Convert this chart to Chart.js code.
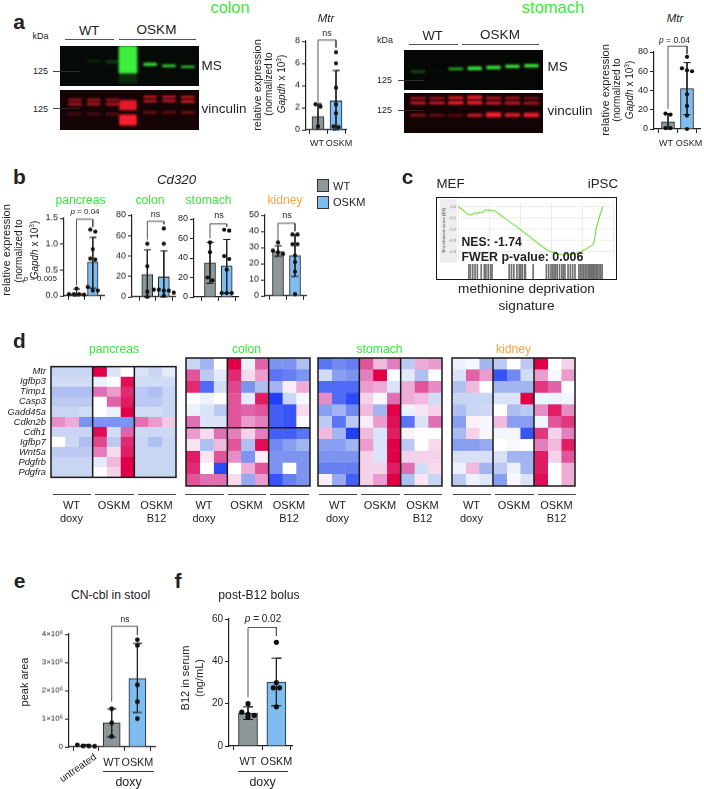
<!DOCTYPE html>
<html>
<head>
<meta charset="utf-8">
<script src="https://cdn.jsdelivr.net/npm/chart.js@4"></script>
<style>
  html, body { margin: 0; padding: 0; background: #fff; }
  #page { position: relative; width: 704px; height: 789px; overflow: hidden; font-family: "Liberation Sans", Arial, sans-serif; color: #222; }
  #page canvas { position: absolute; }
  .t { position: absolute; white-space: nowrap; line-height: 1; }
  .r { position: absolute; }
  sup { font-size: 65%; line-height: 0; }
</style>
</head>
<body>
<div id="page"></div>
<script>
// ---- panel a, Mtr expression
const groups = ["WT", "OSKM"];
const colonMtrMeans = [1.2, 2.6];
const colonMtrHi = [2.35, 5.35];
const colonMtrLo = [0.05, 0];
const colonMtrDots = [[2.3, 2.1, 0.3], [7, 6, 3.8, 2.3, 1.5, 0.3, 0.25]];
const colonMtrBracket = [8.1, 2.5, 7.4];

const stomachMtrMeans = [7.5, 42];
const stomachMtrHi = [16, 69];
const stomachMtrLo = [0, 15];
const stomachMtrDots = [[16, 15, 1, 1], [75, 63, 60, 61, 36, 24, 14, 0]];
const stomachMtrBracket = [86, 21, 78];

// ---- panel b, Cd320 expression
const pancreasCdMeans = [0.04, 0.65];
const pancreasCdHi = [0.13, 1.13];
const pancreasCdLo = [0, 0.15];
const pancreasCdDots = [[0.14, 0.03, 0.03, 0.03, 0.02], [1.28, 1.24, 0.9, 0.72, 0.7, 0.17, 0.1, 0.1]];
const pancreasCdBracket = [1.48, 0.2, 1.33];

const colonCdMeans = [22, 19.5];
const colonCdHi = [46, 45];
const colonCdLo = [0, 0];
const colonCdDots = [[52, 30, 5, 0], [67, 52, 7, 7, 6, 6, 4, 1]];
const colonCdBracket = [74, 56, 71];

const stomachCdMeans = [35, 32];
const stomachCdHi = [56, 59];
const stomachCdLo = [14, 4];
const stomachCdDots = [[56, 46, 20, 17], [69, 68, 42, 39, 28, 4, 4, 4]];
const stomachCdBracket = [75, 60, 72];

const kidneyCdMeans = [27.5, 25];
const kidneyCdHi = [31, 38];
const kidneyCdLo = [24.5, 12];
const kidneyCdDots = [[33, 28, 27, 26], [38, 38, 32, 32, 25, 21, 15, 1]];
const kidneyCdBracket = [45, 34, 40];

// ---- panel e, f
const stoolGroups = ["", "WT", "OSKM"];
const stoolMeans = [50000, 850000, 2430000];
const stoolHi = [80000, 1350000, 3670000];
const stoolLo = [20000, 350000, 1220000];
const stoolDots = [[70000, 30000, 30000, 20000], [1350000, 850000, 370000], [3800000, 3600000, 2200000, 1600000, 1000000]];
const stoolBracket = [4280000, 1600000, 3960000];

const serumMeans = [15.5, 30.2];
const serumHi = [18.5, 41.5];
const serumLo = [12.5, 19];
const serumDots = [[20, 16, 15, 14.5, 13.5], [49, 30, 27.5, 27.5, 18.5]];
const serumBracket = [56, 23, 52];

// ---- panel c, enrichment curve
const esRank = [0, 3.2, 6.5, 8.6, 10.8, 12, 14, 15.5, 17.2, 20.4, 23.7, 26.9, 31.2, 36.6, 41.9, 47.3, 52.7, 58.1, 63.4, 66, 68.8, 71, 74.2, 77, 79.6, 81, 82.8, 85, 87.1, 88, 89.2, 91.4, 93.5];
const esScore = [0, -0.031, -0.07, -0.073, -0.057, -0.064, -0.049, -0.056, -0.031, -0.033, -0.039, -0.07, -0.114, -0.166, -0.221, -0.278, -0.338, -0.39, -0.416, -0.425, -0.429, -0.423, -0.421, -0.412, -0.403, -0.385, -0.374, -0.355, -0.338, -0.3, -0.187, -0.083, 0];
const esHits = [7, 8, 9.5, 11, 12.5, 15, 17, 18, 19.5, 21, 22, 33, 34.5, 36, 38, 39.5, 40.5, 41.5, 43, 43.5, 48.5, 57, 58.5, 60, 61, 62, 63, 64, 65.5, 67, 68, 69, 71, 72.5, 74, 75.5, 78, 79, 80, 81, 82, 83, 84, 85, 85.5, 86, 87, 87.5, 88, 89, 89.5, 90, 91, 92, 93];
const esTicks = [0, -0.1, -0.2, -0.3, -0.4];

// ---- panel d, z-scores scaled to -10..10, columns WT x3, OSKM x3, OSKM B12 x3
const genes = ["Mtr", "Igfbp3", "Timp1", "Casp3", "Gadd45a", "Cdkn2b", "Cdh1", "Igfbp7", "Wnt5a", "Pdgfrb", "Pdgfra"];
const pancreasHeat = [
  [-3, -3, -3, 10, -2, 0, -2, -3, -1.5],
  [-2.5, -2.5, -2.5, -1, 0, 9.5, -2.5, -2.5, -2.5],
  [-4, -4, -4, 6, 4.5, 8.5, -3.5, -4, -3],
  [-3.5, -3.5, -3.5, 0, 6.5, 9, -3.5, -3.5, -3],
  [-3, -3, -2.5, 0, -1, 10, -2.5, -2.5, -3],
  [5, 4, -6, -6, -6, -6, 6, 4.5, 3],
  [-3, -3, -3, 9.5, -2.5, 6.5, -2.8, -2.8, -2.8],
  [0, -2.8, -4, 7.5, -3.5, 8.5, -3, -4, -3],
  [-3.5, -3.5, -3.5, 5.5, 2, 9, -3, -3, -3],
  [-3, -3, -3, -1.5, 3.5, 10, -3, -3, -3],
  [-3, -3, -3, 0, 2.5, 10, -3, -3, -3],
];
const colonHeat = [
  [-3, -4.5, 0, 10, -1, 6.5, -6, -6, -4],
  [7, -3.5, -1.5, 8.5, 2, 4.5, -7.5, -7, -6],
  [8.5, -8, -2.5, 7.5, -6, -4, -4.5, 1, 4],
  [0, -1, 0, 7, -1.5, 9, -10, -3, -0.5],
  [-1, -2, -3.5, 7, 6.5, 7, -8.5, -9, 2],
  [6, -2, -2, 7, 4.5, 5.5, -8.5, -9, -0.3],
  [4.5, 2, 6, 5.5, 2.5, 5.5, -8.5, -8.5, -7.5],
  [1.5, -4, 3.5, 7, -4, 9.5, -6.5, -5.5, -4.5],
  [9, 1.5, 7, 5, -6, 1, -6, -6, -6],
  [8.5, 0, -9.5, 0, 4, 7, -6, 0, -6],
  [7, 6, 6, 2, -5, 4.5, -9, -7, -6],
];
const stomachHeat = [
  [-7.5, -6.5, -7, 7, 3.5, 5.5, -3.5, 4, 4.5],
  [-2.5, -5.5, -6, 5.5, 10, 0, -1.5, -4, -0.3],
  [-8, -8, -8, 4.5, 4, -2, 4, 7, 5],
  [5, -8, -9.5, 2.5, -0.5, 6, 4, 3.5, -2.5],
  [-5.5, -4.5, -6.5, 3.5, -4.5, 10, -1, 1.5, 2.5],
  [-3.5, -7.5, -3.5, 1, 4.5, 9.5, -7.5, -2, 6],
  [3.5, -4.5, -10, 3.5, -2, 9, 0.7, 0, 0],
  [-5.5, -5.5, -4.5, 4.5, -2, 10, -3.5, 0, 2],
  [-6, -6, -6, 2.5, -2, 10, 2.5, 2.5, 2.5],
  [-7, -7, -7, 2.5, 2.5, 9, 6, -2.5, 2],
  [1, -5, -8.5, 2.5, 4.5, 10, -4, 1.5, -3],
];
const kidneyHeat = [
  [-1, -0.5, -4.5, -3.5, 0, -3.5, 10, 0, 2.5],
  [-2, 6.5, 4.5, -9, -6.5, -2.5, 4.5, -0.5, 4.5],
  [-4, 3.5, 0, -4.5, -4.5, -4.5, 8, 6.5, 0],
  [-3, -3, -3, -2, -2, 10, -0.8, -1, -0.8],
  [-4, -3, -2.8, 0, -4, -3.5, 5, 9, 5],
  [-5.5, 0.8, -0.5, 3.5, -5.5, -5.5, -0.8, 7, 8],
  [-4.2, 2.5, -0.5, -0.6, -0.6, -9, 8, 2.5, 5.5],
  [-5.5, -5.5, -5, 0, -0.4, 0, 5.5, 3.5, 9],
  [-2.2, -2.2, -2.2, -2.2, -4.5, -4.5, 9, 2.5, 7],
  [-1, 3.5, -4.5, -3.5, -1, -4.5, 9, 0, 4],
  [-3.5, -1, -1.8, -5.5, -0.5, -2, 9.5, 0, 4],
];

// ---- western blots: [lane, top %, bottom %, brightness]
const colonMsBands = [[1, 36, 40, 0.12], [2, 37, 42, 0.25], [2.82, 0, 68, 1], [2.82, 68, 92, 0.14], [4, 43, 49, 0.9], [5, 47, 52, 0.85], [6, 50, 54, 0.85]];
const colonVincBands = [
  [0, 22, 27, 0.6], [0, 32, 38, 0.65], [0, 58, 62, 0.3], [1, 22, 27, 0.65], [1, 32, 38, 0.7], [1, 58, 62, 0.3], [2, 22, 27, 0.6], [2, 32, 38, 0.7], [2, 58, 62, 0.35],
  [2.82, 26, 50, 0.9], [2.82, 62, 88, 1], [4, 15, 19, 0.85], [4, 26, 30, 0.85], [4, 54, 58, 0.45], [5, 15, 19, 0.9], [5, 25, 29, 0.9], [5, 54, 58, 0.4], [6, 16, 20, 0.85], [6, 26, 31, 0.85], [6, 54, 58, 0.5],
];
const stomachMsBands = [[0, 52, 56, 0.35], [1, 52, 55, 0.05], [2, 45, 49, 0.8], [3, 42, 50, 0.95], [4, 40, 47, 0.95], [5, 38, 44, 0.95], [6, 36, 43, 0.95]];
const stomachVincBands = [
  [0, 11, 15, 0.75], [0, 22, 27, 0.85], [0, 53, 58, 0.55], [1, 11, 15, 0.7], [1, 22, 27, 0.85], [1, 54, 58, 0.45], [2, 9, 15, 0.9], [2, 21, 28, 0.95], [2, 54, 58, 0.4],
  [3, 7, 15, 0.95], [3, 20, 28, 0.95], [3, 53, 59, 0.8], [4, 10, 15, 0.8], [4, 22, 28, 0.85], [4, 49, 60, 1], [5, 10, 15, 0.7], [5, 22, 28, 0.8], [5, 51, 59, 0.85], [6, 11, 15, 0.5], [6, 23, 28, 0.7], [6, 50, 60, 0.95],
];

Chart.defaults.font.family = '"Liberation Sans", Arial, sans-serif';
Chart.defaults.color = "#222";
Chart.defaults.animation = false;
Chart.defaults.responsive = false;
Chart.defaults.plugins.legend.display = false;
Chart.defaults.plugins.tooltip.enabled = false;

const page = document.getElementById("page");
const GREY = "#8b9798", BLUE = "#7fbcf0", GREEN = "#3ae83a", ORANGE = "#f5a544", INK = "#222";

function t(html, x, y, size, o = {}) {
  const d = document.createElement("div");
  d.className = "t";
  d.innerHTML = html;
  const ax = o.align === "left" ? "0" : o.align === "right" ? "-100%" : "-50%";
  d.style.cssText = `left:${x}px;top:${y}px;font-size:${size}px;color:${o.color || INK};font-weight:${o.bold ? "bold" : "normal"};font-style:${o.italic ? "italic" : "normal"};transform:translate(${ax},-50%) rotate(${o.rot || 0}deg)`;
  page.appendChild(d);
}

function hline(x0, x1, y, color = "#444", h = 1) {
  const d = document.createElement("div");
  d.className = "r";
  d.style.cssText = `left:${x0}px;top:${y - h / 2}px;width:${x1 - x0}px;height:${h}px;background:${color}`;
  page.appendChild(d);
}

function rect(x, y, w, h, css) {
  const d = document.createElement("div");
  d.className = "r";
  d.style.cssText = `left:${x}px;top:${y}px;width:${w}px;height:${h}px;box-sizing:border-box;${css}`;
  page.appendChild(d);
}

function addCanvas(l, top, w, h, bg) {
  const c = document.createElement("canvas");
  c.width = w;
  c.height = h;
  c.style.cssText = `left:${l}px;top:${top}px;width:${w}px;height:${h}px;` + (bg ? `background:${bg}` : "");
  page.appendChild(c);
  return c;
}

// spread dots that would overlap, like prism does
function dodge(vals, index, yPerPx, stepUnits) {
  const sorted = [...vals].sort((a, b) => b - a);
  const out = [];
  let group = [];
  const flush = () => {
    group.forEach((v, i) => out.push({ x: index + (i - (group.length - 1) / 2) * stepUnits, y: v }));
    group = [];
  };
  sorted.forEach((v) => {
    if (group.length && group[0] - v > 4 * yPerPx) flush();
    group.push(v);
  });
  flush();
  return out;
}

function whisker(i, hi, lo, cap) {
  return [{ x: i - cap, y: hi }, { x: i + cap, y: hi }, { x: i, y: hi }, { x: i, y: lo }, { x: i - cap, y: lo }, { x: i + cap, y: lo }];
}

function barPanel(p) {
  const [l, top, r, b] = p.box;
  const padL = 46, padT = 24, padR = 24, padB = 32;
  const canvas = addCanvas(l - padL, top - padT, r - l + padL + padR, b - top + padT + padB);
  const cap = (p.capPx || 3.5) / p.step;
  const yPerPx = p.yMax / (b - top);
  const fills = p.fills || [GREY, BLUE];
  const lineSet = (data, color) => ({ type: "scatter", showLine: true, data, borderColor: color, borderWidth: 1, pointRadius: 0, clip: false, order: 2 });
  const datasets = [{
    type: "bar",
    data: p.means.map((m, i) => ({ x: i, y: m })),
    backgroundColor: fills,
    borderColor: INK,
    borderWidth: 1,
    barThickness: p.barW,
    order: 3,
  }];
  p.means.forEach((m, i) => datasets.push(lineSet(whisker(i, p.hi[i], p.lo[i], cap), INK)));
  const bl = p.bracketFrom || 0, br = bl + 1;
  const [bt, bLeft, bRight] = p.bracket;
  datasets.push(lineSet([{ x: bl, y: bLeft }, { x: bl, y: bt }, { x: br, y: bt }, { x: br, y: bRight }], "#555"));
  p.dots.forEach((vals, i) => datasets.push({
    type: "scatter",
    data: dodge(vals, i, yPerPx, ((p.dotR || 2.1) * 2.4) / p.step),
    backgroundColor: "#111",
    borderWidth: 0,
    pointRadius: p.dotR || 2.1,
    clip: false,
    order: 1,
  }));
  new Chart(canvas, {
    type: "bar",
    data: { datasets },
    options: {
      layout: { padding: { top: padT, right: padR } },
      scales: {
        x: {
          type: "linear",
          offset: false,
          min: (l - p.c0) / p.step,
          max: (r - p.c0) / p.step,
          afterBuildTicks: (s) => { s.ticks = p.labels.map((_, i) => ({ value: i })); },
          afterFit: (s) => { s.height = padB; },
          grid: { drawOnChartArea: false, color: INK, tickLength: 4 },
          border: { color: INK, width: 1.2 },
          ticks: {
            autoSkip: false,
            maxRotation: 0,
            minRotation: 0,
            padding: p.xPad === undefined ? 3 : p.xPad,
            font: { size: p.xFont || 9 },
            callback: (v) => p.labels[v],
          },
        },
        y: {
          min: 0,
          max: p.yMax,
          afterBuildTicks: (s) => {
            const ticks = [];
            for (let v = 0; v <= p.yMax + 1e-9; v += p.yStep) ticks.push({ value: v });
            s.ticks = ticks;
          },
          afterFit: (s) => { s.width = padL; },
          grid: { drawOnChartArea: false, color: INK, tickLength: 4 },
          border: { color: INK, width: 1.2 },
          ticks: { padding: 2, font: { size: p.yFont || 9 }, callback: p.yFmt || ((v) => v) },
        },
      },
    },
  });
}

// white to crimson / white to blue
const ramp = [[-10, 32, 64, 248], [-6, 125, 147, 240], [-3, 200, 213, 243], [0, 255, 255, 255], [3, 243, 200, 230], [6, 224, 112, 180], [10, 224, 0, 72]];
function heatColor(z) {
  let i = 0;
  while (i < ramp.length - 2 && z > ramp[i + 1][0]) i++;
  const a = ramp[i], b = ramp[i + 1];
  const f = Math.min(1, Math.max(0, (z - a[0]) / (b[0] - a[0])));
  const ch = (k) => Math.round(a[k] + (b[k] - a[k]) * f);
  return `rgb(${ch(1)},${ch(2)},${ch(3)})`;
}

const heatFrame = {
  id: "heatFrame",
  afterDatasetsDraw(chart, args, opts) {
    const { ctx, chartArea: a, scales } = chart;
    ctx.save();
    ctx.strokeStyle = "#1a1a1a";
    ctx.lineWidth = 1.5;
    ctx.strokeRect(a.left, a.top, a.width, a.height);
    ctx.beginPath();
    [3, 6].forEach((c) => {
      const x = scales.x.getPixelForValue(c);
      ctx.moveTo(x, a.top);
      ctx.lineTo(x, a.bottom);
    });
    if (opts.splitRow) {
      const y = (scales.y.getPixelForValue(opts.splitRow - 1) + scales.y.getPixelForValue(opts.splitRow)) / 2;
      ctx.moveTo(a.left, y);
      ctx.lineTo(a.right, y);
    }
    ctx.stroke();
    ctx.restore();
  },
};

function heatPanel(rows, box, o = {}) {
  const [l, top, r, b] = box;
  const padL = o.showGenes ? 51 : 2;
  const canvas = addCanvas(l - padL, top - 2, r - l + padL + 2, b - top + 4);
  new Chart(canvas, {
    type: "bar",
    data: {
      labels: genes,
      datasets: rows[0].map((_, col) => {
        const colors = rows.map((row) => heatColor(row[col]));
        return {
          data: rows.map(() => 1),
          backgroundColor: colors,
          // same colour border closes the seams between cells
          borderColor: colors,
          borderWidth: 0.6,
          borderSkipped: false,
          barPercentage: 1,
          categoryPercentage: 1,
        };
      }),
    },
    options: {
      indexAxis: "y",
      layout: { padding: { left: o.showGenes ? 0 : 2, right: 2, top: 2, bottom: 2 } },
      plugins: { heatFrame: { splitRow: o.splitRow } },
      scales: {
        x: { display: false, stacked: true, min: 0, max: 9 },
        y: {
          display: !!o.showGenes,
          stacked: true,
          afterFit: (s) => { s.width = padL; },
          grid: { display: false, drawTicks: false },
          border: { display: false },
          ticks: { autoSkip: false, padding: 5, font: { size: 9.4, style: "italic" } },
        },
      },
    },
    plugins: [heatFrame],
  });
}

const softBands = {
  id: "softBands",
  beforeDatasetsDraw(chart) { chart.ctx.save(); chart.ctx.filter = "blur(1.2px)"; },
  afterDatasetsDraw(chart) { chart.ctx.restore(); },
};

function blot(bands, box, o) {
  const [l, top, r, b] = box;
  const canvas = addCanvas(l, top, r - l, b - top, o.bg);
  new Chart(canvas, {
    type: "bar",
    data: {
      datasets: bands.map(([lane, y0, y1, s]) => ({
        data: [{ x: lane, y: [y0, y1] }],
        backgroundColor: `rgba(${o.rgb},${s})`,
        borderSkipped: false,
        borderRadius: 1.5,
        grouped: false,
        barThickness: (o.wide && o.wide[lane] && y1 - y0 > 10) ? o.wide[lane] : o.barW,
      })),
    },
    options: {
      layout: { padding: 0 },
      scales: {
        x: { type: "linear", display: false, offset: false, min: (l - o.c0) / o.step, max: (r - o.c0) / o.step },
        y: { display: false, reverse: true, min: 0, max: 100 },
      },
    },
    plugins: [softBands],
  });
}

// ---------- panel a
blot(colonMsBands, [60, 46, 199, 86], { bg: "#060a06", rgb: "60,240,60", c0: 75, step: 18.8, barW: 13, wide: { 2.82: 18 } });
blot(colonVincBands, [60, 90, 199, 130], { bg: "#140405", rgb: "250,30,45", c0: 75, step: 18.8, barW: 13, wide: { 2.82: 17 } });
blot(stomachMsBands, [404, 50, 543, 90], { bg: "#050705", rgb: "60,240,60", c0: 418, step: 18.9, barW: 14 });
blot(stomachVincBands, [404, 93, 543, 133], { bg: "#120304", rgb: "250,30,45", c0: 418, step: 18.9, barW: 15 });

const blank = ["", ""];
barPanel({ box: [306, 41, 346, 129.5], c0: 318, step: 18, barW: 12, labels: blank, yMax: 8, yStep: 2, means: colonMtrMeans, hi: colonMtrHi, lo: colonMtrLo, dots: colonMtrDots, bracket: colonMtrBracket });
barPanel({ box: [654, 52, 700, 129], c0: 668, step: 19, barW: 13, labels: blank, yMax: 80, yStep: 20, means: stomachMtrMeans, hi: stomachMtrHi, lo: stomachMtrLo, dots: stomachMtrDots, bracket: stomachMtrBracket });

t("a", 19, 21, 21, { bold: true });
t("colon", 230, 7, 16.3, { color: GREEN });
t("stomach", 553, 7, 16.5, { color: GREEN });
t("kDa", 40.5, 36, 9);
t("WT", 89, 30, 13);
t("OSKM", 156.5, 30, 13.5);
hline(65, 114, 39.5, "#555", 1.2);
hline(119, 196, 39.5, "#555", 1.2);
t("125", 40.5, 71, 9);
t("125", 40.5, 108.5, 9);
hline(53, 60, 71, "#444");
hline(60, 80, 71, "#2c2c2c");
hline(53, 60, 108.5, "#444");
hline(60, 80, 108.5, "#3a1a1a");
t("MS", 201.5, 66, 13.5, { align: "left" });
t("vinculin", 201.5, 108.5, 13.5, { align: "left" });
t("Mtr", 326, 19, 11.5, { italic: true });
t("ns", 327, 33, 9);
t("relative expression", 256.5, 85, 11, { rot: -90 });
t("(normalized to", 269, 84, 10, { rot: -90 });
t("<i>Gapdh</i> x 10<sup>3</sup>)", 281.5, 84, 10, { rot: -90 });
t(groups[0], 317, 143, 9);
t(groups[1], 339, 143, 9);

t("kDa", 385, 39.5, 9);
t("WT", 432.5, 35, 13);
t("OSKM", 500, 35, 13.5);
hline(409, 458, 44.5, "#555", 1.2);
hline(462, 539, 44.5, "#555", 1.2);
t("125", 384.5, 80, 9);
t("125", 384.5, 110, 9);
hline(398, 404, 80, "#444");
hline(404, 424, 80, "#2c2c2c");
hline(398, 404, 110, "#444");
hline(404, 424, 110, "#3a1a1a");
t("MS", 547.5, 67, 13.5, { align: "left" });
t("vinculin", 547.5, 110.5, 13.5, { align: "left" });
t("Mtr", 675, 19, 11.5, { italic: true });
t("<i>p</i> = 0.04", 674.5, 40, 8.5);
t("relative expression", 604.5, 90, 11, { rot: -90 });
t("(normalized to", 617, 90, 10, { rot: -90 });
t("<i>Gapdh</i> x 10<sup>3</sup>)", 629.5, 90, 10, { rot: -90 });
t(groups[0], 666, 143, 9);
t(groups[1], 689, 143, 9);

// ---------- panel b
barPanel({ box: [64, 218, 104, 295.5], c0: 76.5, step: 16.3, barW: 10.5, labels: blank, yMax: 1.5, yStep: 0.5, yFmt: (v) => v.toFixed(1), means: pancreasCdMeans, hi: pancreasCdHi, lo: pancreasCdLo, dots: pancreasCdDots, bracket: pancreasCdBracket });
barPanel({ box: [131.5, 215, 175, 296.5], c0: 147, step: 16.7, barW: 11, labels: blank, yMax: 80, yStep: 20, means: colonCdMeans, hi: colonCdHi, lo: colonCdLo, dots: colonCdDots, bracket: colonCdBracket });
barPanel({ box: [194, 218.5, 238, 296.5], c0: 210, step: 16.7, barW: 11, labels: blank, yMax: 80, yStep: 20, means: stomachCdMeans, hi: stomachCdHi, lo: stomachCdLo, dots: stomachCdDots, bracket: stomachCdBracket });
barPanel({ box: [265, 215, 306, 295.5], c0: 278, step: 17, barW: 11, labels: blank, yMax: 50, yStep: 10, means: kidneyCdMeans, hi: kidneyCdHi, lo: kidneyCdLo, dots: kidneyCdDots, bracket: kidneyCdBracket });

t("b", 19.5, 176, 21, { bold: true });
t("Cd320", 176.5, 179.5, 13.3, { italic: true });
t("pancreas", 80.5, 200, 12.2, { color: GREEN });
t("colon", 150, 200, 12.2, { color: GREEN });
t("stomach", 208.5, 200, 12.2, { color: GREEN });
t("kidney", 285, 200, 12.2, { color: ORANGE });
t("<i>p</i> = 0.04", 85, 211.5, 8);
t("ns", 155.5, 214, 9);
t("ns", 219, 215, 9);
t("ns", 287, 215, 9);
t("<i>p</i> = 0.005", 57, 279, 8, { align: "right" });
t("relative expression", 5.5, 250, 11, { rot: -90 });
t("(normalized to", 19, 251, 10, { rot: -90 });
t("<i>Gapdh</i> x 10<sup>3</sup>)", 35, 250, 10, { rot: -90 });
rect(317, 179, 12, 13, `background:${GREY};border:1px solid #333`);
rect(317, 195.5, 12, 13, `background:${BLUE};border:1px solid #333`);
t("WT", 333, 186, 11, { align: "left" });
t("OSKM", 333, 202, 11, { align: "left" });

// ---------- panel c
t("c", 407.5, 176, 21, { bold: true });
t("MEF", 436.5, 183.5, 13.3, { align: "left" });
t("iPSC", 618, 183.5, 13.3, { align: "right" });
rect(436, 197, 181, 83, "border:1.5px solid #1a1a1a;background:#fff");
rect(439.5, 199, 17.5, 64, "background:#eeeeee");
t("Enrichment score (ES)", 443.5, 230, 4.2, { rot: -90, bold: true, color: "#666" });

const esCanvas = addCanvas(438, 198, 178, 65.5);
new Chart(esCanvas, {
  type: "scatter",
  data: {
    datasets: [{
      data: esRank.map((x, i) => ({ x, y: esScore[i] })),
      showLine: true,
      borderColor: "#6fdc3a",
      borderWidth: 1.1,
      pointRadius: 0,
    }],
  },
  options: {
    layout: { padding: { right: 3 } },
    scales: {
      x: { display: true, min: 0, max: 100, afterFit: (s) => { s.height = 0; }, grid: { color: "#ececec", drawTicks: false }, border: { display: false }, ticks: { display: false, stepSize: 20 } },
      y: {
        min: -0.47,
        max: 0.037,
        afterBuildTicks: (s) => { s.ticks = esTicks.map((value) => ({ value })); },
        afterFit: (s) => { s.width = 20; },
        grid: { color: "#ececec", drawTicks: false },
        border: { display: false },
        ticks: { padding: 2, color: "#777", font: { size: 4 }, callback: (v) => v.toFixed(1) },
      },
    },
  },
});

const rugCanvas = addCanvas(458, 263.5, 157, 15);
new Chart(rugCanvas, {
  type: "bar",
  data: { datasets: [{ data: esHits.map((x) => ({ x, y: 1 })), backgroundColor: "#707070", barThickness: 1, grouped: false }] },
  options: {
    layout: { padding: { right: 2 } },
    scales: {
      x: { type: "linear", display: false, offset: false, min: 0, max: 100 },
      y: { display: false, min: 0, max: 1 },
    },
  },
});

t("NES: -1.74", 461.5, 241.5, 12.2, { align: "left", bold: true });
t("FWER p-value: 0.006", 461.5, 257, 12.4, { align: "left", bold: true });
t("methionine deprivation", 526.5, 289, 13.6);
t("signature", 526.5, 306, 13.6);

// ---------- panel d
heatPanel(pancreasHeat, [51, 358, 176, 486], { showGenes: true });
heatPanel(colonHeat, [184, 358, 310, 486], { splitRow: 6 });
heatPanel(stomachHeat, [316, 358, 442, 486]);
heatPanel(kidneyHeat, [450, 358, 575, 486]);

t("d", 19.5, 340, 21, { bold: true });
t("pancreas", 114, 348.5, 12.2, { color: GREEN });
t("colon", 246.5, 348.5, 12.2, { color: GREEN });
t("stomach", 379.5, 348.5, 12.2, { color: GREEN });
t("kidney", 513.5, 348.5, 12.2, { color: ORANGE });

[52.5, 185, 318.5, 452.5].forEach((x0) => {
  const cols = [x0, x0 + 42.5, x0 + 85];
  cols.forEach((x) => hline(x, x + 38.5, 494, "#444"));
  t("WT", cols[0] + 19, 505, 11);
  t("doxy", cols[0] + 19, 518, 11);
  t("OSKM", cols[1] + 19, 504.5, 11);
  t("OSKM", cols[2] + 19, 504.5, 11);
  t("B12", cols[2] + 19, 518, 11);
});

// ---------- panel e, f
barPanel({
  box: [69, 634, 155, 746.5], c0: 86, step: 25.7, barW: 17, capPx: 4.5, dotR: 2.4, xFont: 10.8, xPad: 6, yFont: 8,
  labels: stoolGroups, fills: [GREY, GREY, BLUE], yMax: 4000000, yStep: 1000000,
  yFmt: (v) => (v === 0 ? "0" : `${v / 1e6}×10⁶`),
  means: stoolMeans, hi: stoolHi, lo: stoolLo, dots: stoolDots, bracket: stoolBracket, bracketFrom: 1,
});
barPanel({
  box: [228.5, 618.5, 291.5, 746], c0: 247.5, step: 28.4, barW: 19, capPx: 5, dotR: 2.6, xFont: 10.8, xPad: 6, yFont: 10,
  labels: groups, yMax: 60, yStep: 20,
  means: serumMeans, hi: serumHi, lo: serumLo, dots: serumDots, bracket: serumBracket,
});

t("e", 19.5, 580, 21, { bold: true });
t("f", 178, 580, 21, { bold: true });
t("CN-cbl in stool", 110.5, 595, 12.2);
t("post-B12 bolus", 259, 595, 12.2);
t("peak area", 24, 681.5, 11, { rot: -90 });
t("ns", 125, 619, 8.5);
t("untreated", 77.5, 767.5, 10, { rot: -35 });
hline(103, 154, 771.5, "#333");
t("doxy", 128.5, 781.5, 12.4);
t("<i>p</i> = 0.02", 263, 619, 10);
t("B12 in serum", 184.5, 678, 11, { rot: -90 });
t("(ng/mL)", 199, 678, 11, { rot: -90 });
hline(237.5, 287.5, 771.5, "#333");
t("doxy", 262.5, 781.5, 12.4);
</script>
</body>
</html>
